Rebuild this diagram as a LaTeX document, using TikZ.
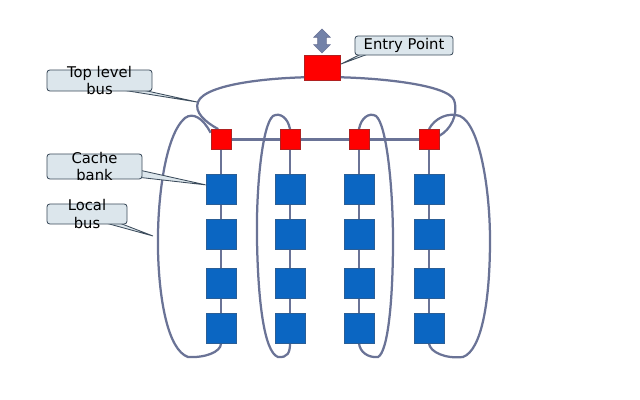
\documentclass[tikz,border=0pt]{standalone}
\usepackage{fontspec}
\setmainfont{DejaVu Sans}
\usetikzlibrary{positioning,calc,backgrounds,shapes.arrows}
\definecolor{busgrey}{HTML}{6A7396}
\definecolor{bankblue}{HTML}{0B66C2}
\definecolor{bankedge}{HTML}{2A5E96}
\definecolor{swred}{HTML}{FF0000}
\definecolor{swedge}{HTML}{B02020}
\definecolor{callfill}{HTML}{DCE6EC}
\definecolor{calledge}{HTML}{3B4B5B}
\definecolor{arrowfill}{HTML}{7382A8}

\begin{document}
\begin{tikzpicture}[
    x=0.025cm, y=-0.025cm,
    bus/.style={draw=busgrey, line width=1.6pt},
    switch/.style={draw=swedge, fill=swred, rectangle, inner sep=0pt,
                   minimum size=0.5cm, line width=0.6pt},
    entrybox/.style={draw=swedge, fill=swred, rectangle, inner sep=0pt,
                     minimum width=0.9cm, minimum height=0.625cm, line width=0.6pt},
    bank/.style={draw=bankedge, fill=bankblue, rectangle, inner sep=0pt,
                 minimum size=0.75cm, line width=0.6pt},
    updown/.style={double arrow, shape border rotate=90, draw=busgrey,
                   fill=arrowfill, inner sep=0.1cm, minimum height=0.6cm,
                   double arrow head extend=0.1cm},
    callbox/.style={draw=calledge, fill=callfill, rectangle, rounded corners=2pt,
                    inner sep=0pt, line width=0.6pt},
    callwedge/.style={draw=calledge, fill=callfill, line width=0.6pt},
    calltext/.style={align=center, inner sep=0pt,
                     font=\fontsize{10.5}{12.5}\selectfont}
  ]
  \useasboundingbox (0,0) rectangle (640,400);

  % switches and cache banks
  \foreach \i/\x in {1/221,2/290,3/359,4/429} {
    \node[switch] (sw\i) at (\x,139.5) {};
    \foreach \j/\y in {1/189,2/234,3/283,4/328}
      \node[bank] (bk\i\j) at (\x,\y) {};
  }
  \node[entrybox] (entry) at (322,67.5) {};
  \node[updown] (io) [above=0.3mm of entry] {};

  % callouts
  \node[callbox, minimum width=2.45cm, minimum height=0.475cm] (epbox) at (404,45.5) {};
  \node[calltext] (eptext) at (epbox) {Entry Point};
  \node[callbox, minimum width=2.625cm, minimum height=0.525cm] (tlbox) at (99.5,80.5) {};
  \node[calltext] (tltext) at (tlbox) {Top level\\bus};
  \node[callbox, minimum width=2.375cm, minimum height=0.625cm] (cbbox) at (94.5,166.5) {};
  \node[calltext] (cbtext) at (cbbox) {Cache\\bank};
  \node[callbox, minimum width=2.0cm, minimum height=0.5cm] (lbbox) at (87,214) {};
  \node[calltext] (lbtext) at (lbbox) {Local\\bus};

  \coordinate (tltip) at (197,102);
  \coordinate (lbtip) at (153,236);

  \begin{scope}[on background layer]
    % buses
    \draw[bus] (sw1) -- (sw2) -- (sw3) -- (sw4);
    \foreach \i in {1,...,4}
      \draw[bus] (sw\i) -- (bk\i1) -- (bk\i2) -- (bk\i3) -- (bk\i4);
    \draw[bus] (sw1.105) .. controls (205,122) and (194,112) .. (198,102)
      .. controls (205,84) and (270,77) .. (322,77)
      .. controls (380,77) and (448,85) .. (454,100)
      .. controls (459,115) and (450,130) .. (sw4.20);
    \draw[bus] (sw1.147) .. controls (203,118) and (193,112) .. (185,118)
      .. controls (165,135) and (157,200) .. (158,250)
      .. controls (159,300) and (168,350) .. (188,357)
      .. controls (205,358) and (221,352) .. (bk14.south);
    \draw[bus] (sw2.north) .. controls (288,118) and (280,112) .. (273,116)
      .. controls (262,125) and (256,190) .. (257,240)
      .. controls (258,300) and (264,352) .. (278,357)
      .. controls (288,358) and (290,352) .. (bk24.south);
    \draw[bus] (sw3.north) .. controls (361,118) and (369,112) .. (376,116)
      .. controls (387,125) and (393,190) .. (393,240)
      .. controls (393,300) and (388,352) .. (378,357)
      .. controls (368,358) and (360,352) .. (bk34.south);
    \draw[bus] (sw4.north) .. controls (435,118) and (448,112) .. (460,116)
      .. controls (480,125) and (490,190) .. (490,240)
      .. controls (490,300) and (482,350) .. (463,357)
      .. controls (445,359) and (430,352) .. (bk44.south);

    % callout pointers
    \filldraw[callwedge] ($(epbox.south west)!0.10!(epbox.south east)+(0,-3)$)
      -- (entry.10) -- ($(epbox.south west)!0.18!(epbox.south east)+(0,-3)$) -- cycle;
    \filldraw[callwedge] ($(tlbox.south west)!0.62!(tlbox.south east)+(0,-3)$)
      -- (tltip) -- ($(tlbox.south west)!0.84!(tlbox.south east)+(0,-3)$) -- cycle;
    \filldraw[callwedge] ($(cbbox.north east)!0.64!(cbbox.south east)+(-3,0)$)
      -- (bk11.165) -- ($(cbbox.north east)!0.92!(cbbox.south east)+(-3,0)$) -- cycle;
    \filldraw[callwedge] ($(lbbox.south west)!0.66!(lbbox.south east)+(0,-3)$)
      -- (lbtip) -- ($(lbbox.south west)!0.85!(lbbox.south east)+(0,-3)$) -- cycle;
  \end{scope}
\end{tikzpicture}
\end{document}
